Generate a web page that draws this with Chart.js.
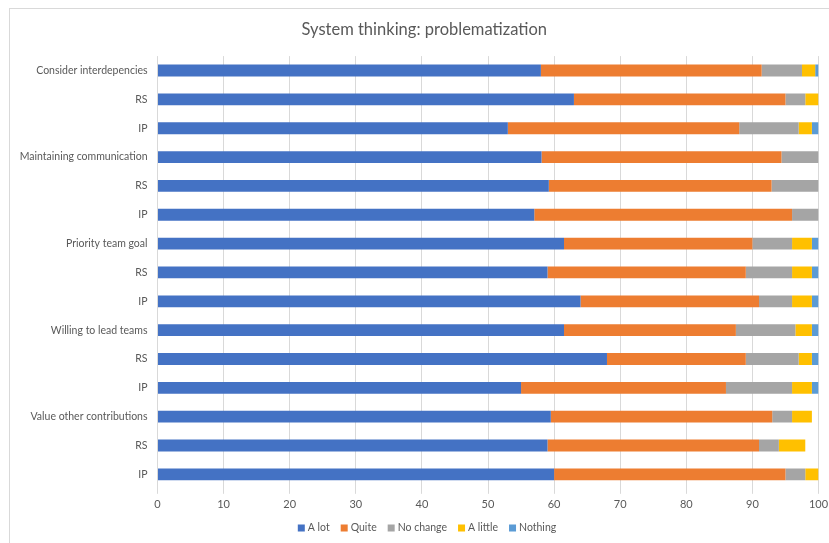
<!DOCTYPE html>
<html>
<head>
<meta charset="utf-8">
<script src="https://cdn.jsdelivr.net/npm/chart.js@4"></script>
<style>
  html, body { margin: 0; padding: 0; background: #fff; }
  #wrap { width: 829px; height: 543px; }
</style>
</head>
<body>
<div id="wrap"><canvas id="myChart" width="829" height="543"></canvas></div>
<script>
// rows, top to bottom
var labels = ['Consider interdepencies', 'RS', 'IP',
              'Maintaining communication', 'RS', 'IP',
              'Priority team goal', 'RS', 'IP',
              'Willing to lead teams', 'RS', 'IP',
              'Value other contributions', 'RS', 'IP']

var aLot     = [58, 63, 53, 58.1, 59.2, 57, 61.5, 59, 64, 61.5, 68, 55, 59.5, 59, 60]
var quite    = [33.4, 32, 35, 36.3, 33.7, 39, 28.5, 30, 27, 26, 21, 31, 33.5, 32, 35]
var noChange = [6.1, 3, 9, 5.6, 7.1, 4, 6, 7, 5, 9, 8, 10, 3, 3, 3]
var aLittle  = [2, 2, 2, 0, 0, 0, 3, 3, 3, 2.5, 2, 3, 3, 4, 2]
var nothing  = [0.5, 0, 1, 0, 0, 0, 1, 1, 1, 1, 1, 1, 0, 0, 0]

var xTicks = [0, 10, 20, 30, 40, 50, 60, 70, 80, 90, 100]

var textColor = '#595959'
var fontFamily = 'Lato, "Open Sans", sans-serif'

// light frame round the chart
var framePlugin = {
    id: 'frame',
    beforeDraw: function(chart) {
        var c = chart.ctx
        c.save()
        c.strokeStyle = '#d9d9d9'
        c.lineWidth = 1
        c.strokeRect(9.5, 8.5, 900, 600)
        c.restore()
    }
}

// let the long row labels run past the axis box instead of being cut
var labelRoomPlugin = {
    id: 'labelRoom',
    afterLayout: function(chart) {
        chart.scales.y.left = 0
    }
}

// compact legend row under the axis
var legendRowPlugin = {
    id: 'legendRow',
    afterDraw: function(chart) {
        var c = chart.ctx
        var sets = chart.data.datasets
        var box = 7, gapText = 3, gapItem = 11
        c.save()
        c.font = '10.5px ' + fontFamily
        c.textBaseline = 'middle'
        var total = 0
        sets.forEach(function(d, i) {
            total += box + gapText + c.measureText(d.label).width
            if (i < sets.length - 1) total += gapItem
        })
        var x = 427 - total / 2
        var y = 528
        sets.forEach(function(d) {
            c.fillStyle = d.backgroundColor
            c.fillRect(x, y - box / 2, box, box)
            x += box + gapText
            c.fillStyle = textColor
            c.fillText(d.label, x, y)
            x += c.measureText(d.label).width + gapItem
        })
        c.restore()
    }
}

function ds(label, data, color) {
    return {
        label: label,
        data: data,
        backgroundColor: color,
        borderWidth: 0,
        categoryPercentage: 1,
        barPercentage: 0.41
    }
}

var ctx = document.getElementById('myChart')
var myChart = new Chart(ctx, {
    type: 'bar',
    data: {
        labels: labels,
        datasets: [
            ds('A lot', aLot, '#4472C4'),
            ds('Quite', quite, '#ED7D31'),
            ds('No change', noChange, '#A5A5A5'),
            ds('A little', aLittle, '#FFC000'),
            ds('Nothing', nothing, '#5B9BD5')
        ]
    },
    plugins: [framePlugin, labelRoomPlugin, legendRowPlugin],
    options: {
        indexAxis: 'y',
        responsive: false,
        animation: false,
        layout: { padding: { left: 30, right: 10.5, top: 0, bottom: 27 } },
        plugins: {
            title: {
                display: true,
                text: 'System thinking: problematization',
                color: textColor,
                font: { family: fontFamily, size: 16.5, weight: 'normal' },
                padding: { top: 20, bottom: 16.3 }
            },
            legend: { display: false },
            tooltip: { enabled: false }
        },
        scales: {
            x: {
                stacked: true,
                min: 0,
                max: 100,
                afterBuildTicks: function(scale) {
                    scale.ticks = xTicks.map(function(v) { return { value: v } })
                },
                afterFit: function(scale) {
                    scale.paddingLeft = 0
                    scale.paddingRight = 0
                },
                grid: { color: '#d9d9d9', drawTicks: true, tickLength: 5 },
                border: { display: false },
                ticks: {
                    color: textColor,
                    font: { family: fontFamily, size: 11 },
                    padding: 4.5
                }
            },
            y: {
                stacked: true,
                grid: { display: false, drawTicks: false },
                border: { display: false },
                afterFit: function(scale) { scale.width = 127.5 },
                ticks: {
                    color: textColor,
                    font: { family: fontFamily, size: 10.5 },
                    padding: 10,
                    autoSkip: false
                }
            }
        }
    }
})
</script>
</body>
</html>
